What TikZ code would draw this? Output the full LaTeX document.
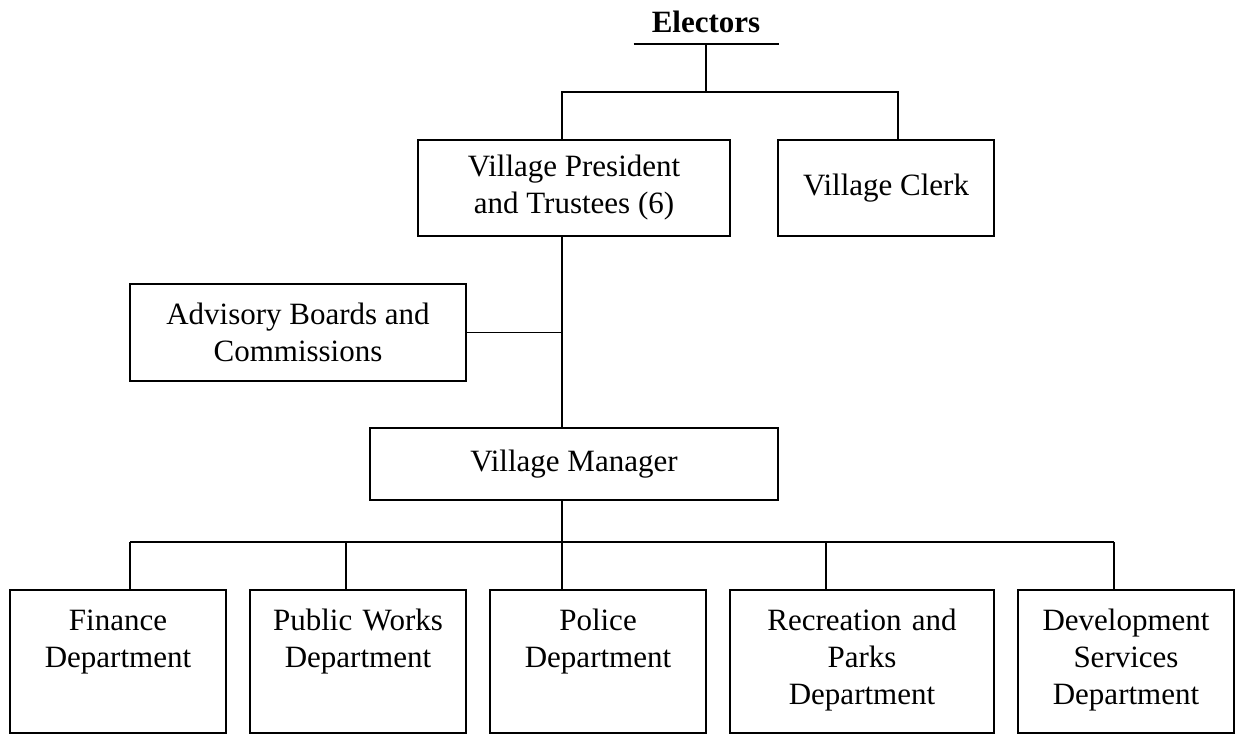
\documentclass[tikz,border=0pt]{standalone}
\usepackage{fontspec}
\setmainfont{Liberation Serif}
\usepackage{tikz}
\usetikzlibrary{positioning}

\begin{document}
\begin{tikzpicture}[%
        x=1pt,y=-1pt,
        every node/.style={font=\fontsize{31}{37}\selectfont},
        link/.style={line width=1.6pt},
        unit/.style={%
          draw,
          line width=2.4pt,
          align=center,
          inner sep=2pt,
          outer sep=0pt
        },
        dept/.style={%
          draw,
          line width=2.4pt,
          align=center,
          text width=200pt,
          text height=36pt,
          text depth=99pt,
          inner xsep=8pt,
          inner ysep=4pt,
          outer sep=0pt
        },
        node distance=24pt
      ]
      \useasboundingbox (0,0) rectangle (1236,734);

      \node[font=\fontsize{31}{37}\selectfont\bfseries, anchor=south, minimum width=145pt,
            inner xsep=0pt, inner ysep=12pt, outer sep=0pt, text depth=0pt] (elect) at (706,44) {Electors};
      \node[unit, minimum width=312pt, minimum height=96pt] (pres) at (574,188) {Village President\\and Trustees (6)};
      \node[unit, minimum width=216pt, minimum height=96pt] (clerk) [right=48pt of pres] {Village Clerk};
      \node[unit, minimum width=336pt, minimum height=97pt] (adv) at (298,332.5) {Advisory Boards and\\Commissions};
      \node[unit, minimum width=408pt, minimum height=72pt] (mgr) at (574,464) {Village Manager};
      \node[dept] (fin) at (118,661.5) {Finance\\Department};
      \node[dept] (pw) [right=of fin] {Public Works\\Department};
      \node[dept] (pol) [right=of pw] {Police\\Department};
      \node[dept, text width=248pt] (rec) [right=of pol] {Recreation and\\Parks\\Department};
      \node[dept] (dev) [right=of rec] {Development\\Services\\Department};

      \coordinate (ebus) at (706,92);
      \coordinate (spine) at (562,92);
      \coordinate (cbus) at (898,92);
      \coordinate (dbus) at (562,542);
      \coordinate (d1) at (130,542);
      \coordinate (d2) at (346,542);
      \coordinate (d3) at (562,542);
      \coordinate (d4) at (826,542);
      \coordinate (d5) at (1114,542);

      \draw[link] (elect.south west) -- (elect.south east);
      \draw[link] (elect.south) -- (ebus);
      \draw[link] (spine |- pres.north) -- (spine) -- (cbus) -- (cbus |- clerk.north);
      \draw[link] (spine |- pres.south) -- (spine |- mgr.north);
      \draw[link] (adv.east) -- (adv.east -| spine);
      \draw[link] (spine |- mgr.south) -- (dbus);
      \draw[link] (d1) -- (d5);
      \foreach \d/\n in {d1/fin, d2/pw, d3/pol, d4/rec, d5/dev}
        \draw[link] (\d) -- (\d |- \n.north);
    \end{tikzpicture}
\end{document}
